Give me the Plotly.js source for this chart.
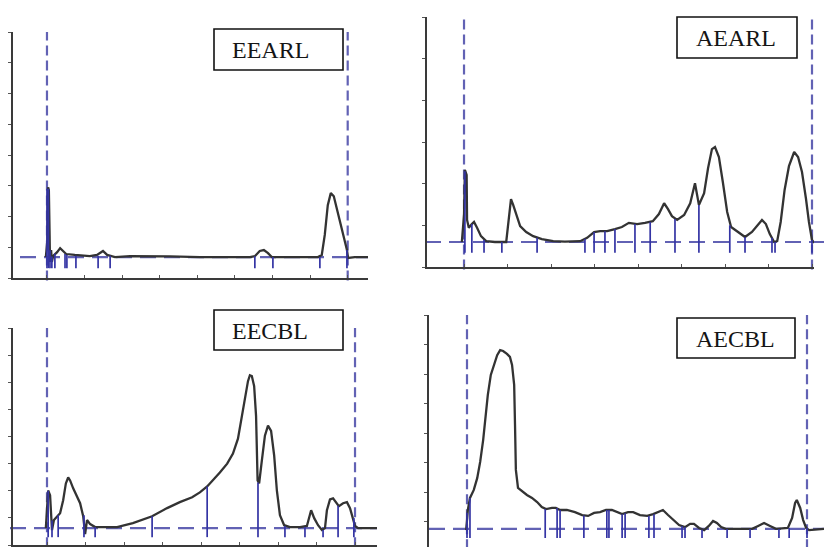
<!DOCTYPE html>
<html>
<head>
<meta charset="utf-8">
<script src="https://cdn.plot.ly/plotly-3.0.1.min.js"></script>
<style>
html,body{margin:0;padding:0;background:#fff;}
#chart{width:824px;height:547px;}
</style>
</head>
<body>
<div id="chart"></div>
<script>
// ---------- DATA ----------
const labels = ["EEARL", "AEARL", "EECBL", "AECBL"];

// Panel 1: EEARL
const p1x = [0.97,1.01,1.03,1.05,1.07,1.08,1.11,1.13,1.16,1.27,1.35,1.43,1.51,1.74,2.14,2.33,2.49,2.60,2.81,3.21,3.74,4.27,5.07,5.87,6.40,6.53,6.66,6.77,6.88,6.98,7.46,8.21,8.31,8.39,8.47,8.55,8.63,8.74,8.85,8.93,8.98,9.01,9.19,9.54];
const p1y = [0.68,1.23,2.95,2.86,1.40,0.52,0.91,0.52,0.71,0.84,0.97,0.88,0.78,0.75,0.71,0.75,0.88,0.75,0.68,0.71,0.71,0.70,0.68,0.68,0.68,0.71,0.88,0.91,0.81,0.68,0.68,0.68,0.75,1.40,2.37,2.76,2.66,2.14,1.62,1.23,0.91,0.65,0.68,0.68];
const p1dropX = [1.00,1.04,1.08,1.13,1.21,1.48,1.53,1.77,2.36,2.68,6.53,7.01,8.26,8.98];
const p1dropTop = [2.90,2.90,0.90,0.70,0.80,0.78,0.75,0.72,0.72,0.72,0.71,0.68,0.68,0.91];

// Panel 2: AEARL
const p2x = [0.95,1.00,1.02,1.06,1.07,1.11,1.18,1.23,1.30,1.39,1.51,1.71,1.97,2.03,2.08,2.13,2.20,2.29,2.43,2.59,2.79,3.05,3.32,3.67,3.83,3.99,4.13,4.29,4.47,4.63,4.79,4.98,5.16,5.34,5.48,5.60,5.69,5.78,5.90,6.06,6.20,6.31,6.40,6.52,6.61,6.70,6.77,6.86,6.95,7.05,7.14,7.30,7.46,7.62,7.76,7.85,7.94,8.03,8.13,8.20,8.28,8.37,8.47,8.59,8.68,8.77,8.86,8.93,9.00,9.05];
const p2y = [0.60,1.25,2.33,2.21,1.13,0.94,1.03,1.08,0.94,0.74,0.62,0.60,0.60,1.13,1.63,1.49,1.25,0.98,0.84,0.74,0.67,0.62,0.61,0.62,0.70,0.84,0.86,0.86,0.91,0.96,1.06,1.03,1.06,1.10,1.27,1.53,1.39,1.22,1.13,1.25,1.53,2.01,1.49,1.77,2.37,2.83,2.88,2.64,2.04,1.32,0.96,0.84,0.72,0.84,1.03,1.13,1.03,0.79,0.60,0.62,1.08,1.85,2.42,2.76,2.64,2.28,1.65,1.08,0.65,0.58];
const p2dropX = [1.02,1.18,1.46,1.87,2.68,3.78,3.99,4.24,4.47,4.93,5.28,5.85,6.40,7.11,7.46,8.08,8.15,9.00];
const p2dropTop = [2.30,1.03,0.65,0.60,0.70,0.68,0.84,0.86,0.91,1.03,1.08,1.15,1.49,1.00,0.72,0.70,0.60,0.65];

// Panel 3: EECBL
const p3x = [0.97,1.01,1.03,1.08,1.10,1.13,1.18,1.26,1.34,1.42,1.49,1.55,1.60,1.68,1.78,1.86,1.94,1.99,2.04,2.12,2.25,2.51,2.82,3.23,3.73,4.12,4.45,4.77,4.97,5.16,5.34,5.49,5.68,5.83,5.96,6.06,6.14,6.22,6.27,6.32,6.38,6.43,6.47,6.51,6.58,6.66,6.74,6.82,6.90,6.97,7.05,7.16,7.31,7.57,7.75,7.86,7.94,8.04,8.14,8.22,8.27,8.35,8.43,8.51,8.58,8.69,8.79,8.87,8.95,9.00,9.08,9.57];
const p3y = [0.62,1.65,2.01,1.83,1.10,0.55,0.92,1.06,1.17,1.65,2.27,2.49,2.38,2.09,1.79,1.54,1.06,0.40,0.92,0.77,0.66,0.66,0.66,0.81,1.06,1.36,1.58,1.76,1.94,2.16,2.42,2.67,3.00,3.37,3.92,4.69,5.38,6.04,6.26,6.23,5.86,4.76,2.38,2.27,3.11,4.03,4.40,4.21,3.30,2.01,1.10,0.73,0.66,0.66,0.70,1.28,0.99,0.73,0.55,0.62,1.28,1.68,1.72,1.58,1.43,1.54,1.58,1.36,0.99,0.70,0.62,0.62];
const p3dropX = [1.03,1.13,1.29,1.96,2.25,3.73,5.16,6.48,7.18,7.70,8.17,8.56,8.97];
const p3dropTop = [2.00,0.90,1.10,1.10,0.66,1.06,2.16,2.30,0.70,0.66,0.55,1.45,1.00];

// Panel 4: AECBL
const p4x = [0.98,1.02,1.07,1.16,1.24,1.31,1.38,1.45,1.49,1.56,1.64,1.71,1.78,1.85,1.94,2.01,2.06,2.11,2.13,2.15,2.20,2.29,2.41,2.53,2.65,2.76,2.86,3.00,3.09,3.19,3.35,3.54,3.71,3.85,3.99,4.13,4.27,4.41,4.53,4.65,4.79,4.91,5.07,5.24,5.38,5.49,5.61,5.73,5.85,5.99,6.13,6.25,6.34,6.46,6.58,6.69,6.79,6.88,6.98,7.09,7.42,7.71,7.85,7.99,8.13,8.27,8.55,8.65,8.72,8.76,8.84,8.91,8.98,9.05,9.40];
const p4y = [0.71,1.39,1.80,2.07,2.47,3.02,3.76,4.71,5.29,5.97,6.37,6.64,6.81,6.78,6.68,6.58,6.31,5.63,4.27,2.75,2.14,2.03,1.90,1.80,1.66,1.49,1.42,1.46,1.46,1.39,1.39,1.32,1.22,1.19,1.29,1.32,1.39,1.39,1.32,1.25,1.32,1.32,1.22,1.19,1.25,1.32,1.39,1.22,1.05,0.88,0.81,0.92,0.92,0.78,0.71,0.85,1.02,0.95,0.81,0.75,0.75,0.75,0.85,0.95,0.85,0.75,0.78,1.12,1.63,1.73,1.46,1.05,0.78,0.71,0.75];
const p4dropX = [1.00,1.07,2.84,3.12,3.19,3.75,4.29,4.34,4.65,4.72,5.28,5.40,6.06,6.13,6.53,7.12,7.66,8.34,8.58,9.00];
const p4dropTop = [1.30,1.80,1.42,1.46,1.39,1.20,1.39,1.39,1.25,1.28,1.19,1.25,0.85,0.81,0.72,0.75,0.75,0.75,0.78,0.78];

// integration baseline level and drop-line foot per panel
const baselineY = [0.68, 0.60, 0.62, 0.75];
const dropBottom = [0.32, 0.34, 0.29, 0.44];
// window (dashed verticals) per panel
const windowStart = [1, 1, 1, 1];
const windowEnd = [9, 9, 9, 9];

// ---------- LAYOUT HELPERS ----------
const W = 824, H = 547;
const px = v => v / W;
const py = v => 1 - v / H;

const panels = [
  {xd:[13,368], yd:[278,32],  xr:[0.096,9.54], yr:[0,8],     xline:true, base:[20,368], box:[214,343,29,70],  txt:[270,50]},
  {xd:[427,814],yd:[267,17],  xr:[0.149,9.046],yr:[0,6],     xline:true, base:[425,824], box:[677,797,17,58], txt:[736,38]},
  {xd:[13,377], yd:[545,328], xr:[0.117,9.571],yr:[0,8],     xline:true, base:[10,377], box:[214,343,310,350],txt:[270,331]},
  {xd:[429,824],yd:[547,315], xr:[0.106,9.40], yr:[0.136,8], xline:false,base:[429,824], box:[677,795,318,358],txt:[735,339]}
];

const xs = [p1x,p2x,p3x,p4x], ys = [p1y,p2y,p3y,p4y];
const dxs = [p1dropX,p2dropX,p3dropX,p4dropX], dts = [p1dropTop,p2dropTop,p3dropTop,p4dropTop];

const traces = [];
const layout = {
  width: W, height: H,
  margin: {l:0,r:0,t:0,b:0},
  paper_bgcolor: '#ffffff',
  plot_bgcolor: 'rgba(0,0,0,0)',
  showlegend: false,
  shapes: [],
  annotations: []
};

panels.forEach((p, i) => {
  const n = i + 1;
  const xa = 'x' + (n === 1 ? '' : n), ya = 'y' + (n === 1 ? '' : n);
  const xk = 'xaxis' + (n === 1 ? '' : n), yk = 'yaxis' + (n === 1 ? '' : n);
  layout[xk] = {
    domain: [px(p.xd[0]), px(p.xd[1])], range: p.xr, anchor: ya,
    showline: p.xline, linecolor: '#3a3a3a', linewidth: 2,
    ticks: p.xline ? 'inside' : '', ticklen: 3, tickcolor: '#555', tickwidth: 1,
    tick0: 0, dtick: 1, showticklabels: false, showgrid: false, zeroline: false, fixedrange: true
  };
  layout[yk] = {
    domain: [py(p.yd[0]), py(p.yd[1])], range: p.yr, anchor: xa,
    showline: true, linecolor: '#3a3a3a', linewidth: 2,
    ticks: 'outside', ticklen: 3, tickcolor: '#555', tickwidth: 1,
    tick0: 0, dtick: 1, showticklabels: false, showgrid: false, zeroline: false, fixedrange: true
  };

  // baseline (dashed horizontal)
  layout.shapes.push({type:'line', xref:'paper', yref:ya, x0:px(p.base[0]), x1:px(p.base[1]),
    y0:baselineY[i], y1:baselineY[i], line:{color:'#6262b4', width:2.2, dash:'16px,8px'}, layer:'below'});
  // window verticals
  [windowStart[i], windowEnd[i]].forEach(xv => {
    layout.shapes.push({type:'line', xref:xa, yref:ya+' domain', x0:xv, x1:xv, y0:-0.01, y1:1,
      line:{color:'#6262b4', width:2.2, dash:'10px,5px'}, layer:'below'});
  });

  // chromatogram curve
  traces.push({x: xs[i], y: ys[i], xaxis: xa, yaxis: ya, type:'scatter', mode:'lines',
    line:{color:'#333333', width:2.3}, hoverinfo:'skip'});

  // drop lines
  const dx = [], dy = [];
  dxs[i].forEach((xv, k) => { dx.push(xv, xv, null); dy.push(dropBottom[i], dts[i][k], null); });
  traces.push({x: dx, y: dy, xaxis: xa, yaxis: ya, type:'scatter', mode:'lines',
    line:{color:'#3434a4', width:1.7}, hoverinfo:'skip', connectgaps:false});

  // label box
  layout.shapes.push({type:'rect', xref:'paper', yref:'paper',
    x0:px(p.box[0]), x1:px(p.box[1]), y0:py(p.box[3]), y1:py(p.box[2]),
    line:{color:'#111', width:1.6}, fillcolor:'#ffffff', layer:'above'});
  layout.annotations.push({xref:'paper', yref:'paper', x:px(p.txt[0]), y:py(p.txt[1]),
    text: labels[i], showarrow:false, xanchor:'center', yanchor:'middle',
    font:{family:'Liberation Serif, Times New Roman, serif', size:24, color:'#151515'}});
});

Plotly.newPlot('chart', traces, layout, {staticPlot:true, displayModeBar:false});
</script>
</body>
</html>
